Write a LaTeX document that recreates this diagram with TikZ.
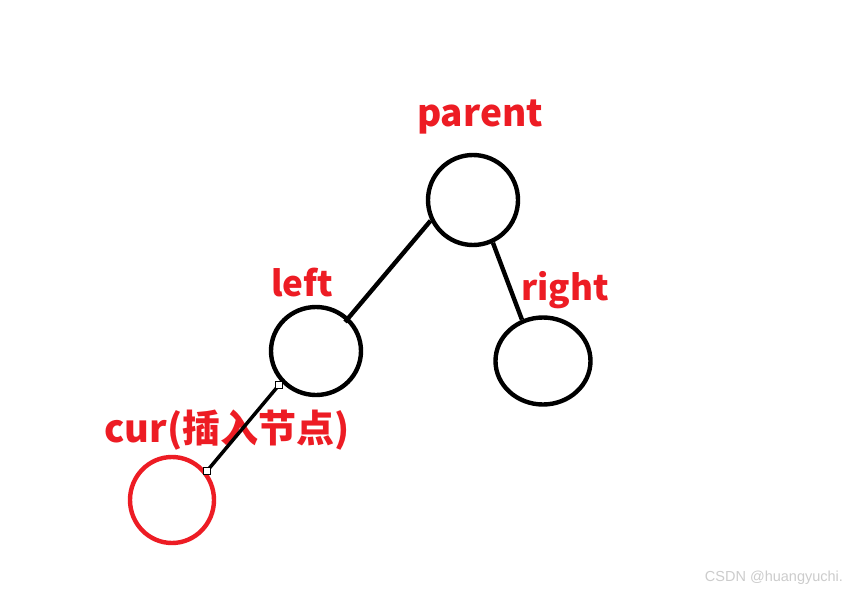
\documentclass[tikz,border=0pt]{standalone}
\usepackage{fontspec}
\usetikzlibrary{shapes.geometric,calc}
\setmainfont{Liberation Sans}
\newfontfamily\cjk{Noto Sans CJK SC}
\definecolor{pred}{HTML}{ED1C24}
\definecolor{wm}{HTML}{CCCCCC}
\begin{document}
\begin{tikzpicture}[x=1pt,y=-1pt,
  treenode/.style={draw=black,line width=4.4pt,ellipse,inner sep=0pt},
  newnode/.style={draw=pred,line width=4.4pt,ellipse,inner sep=0pt},
  lbl/.style={text=pred,font=\cjk\bfseries\fontsize{35}{40}\selectfont,inner sep=0pt},
  edge/.style={line width=4.4pt,black},
  handle/.style={draw=black,fill=white,line width=0.8pt,minimum size=7pt,inner sep=0pt,rectangle}]
\useasboundingbox (0,0) rectangle (852,594);
\fill[white] (0,0) rectangle (852,594);
\node[treenode,minimum width=90pt,minimum height=90pt] (parent) at (473,200) {};
\node[treenode,minimum width=90pt,minimum height=88pt] (left) at (316,351) {};
\node[treenode,minimum width=95pt,minimum height=87pt] (right) at (543,361) {};
\node[newnode,minimum width=84pt,minimum height=86pt] (cur) at (172,500) {};
\node[lbl,font=\cjk\bfseries\fontsize{37}{40}\selectfont] (tparent) at (480,117) {parent};
\node[lbl] (tleft) at (302,283) {left};
\node[lbl] (tright) at (565,290) {right};
\node[lbl,font=\cjk\bfseries\fontsize{38}{42}\selectfont] (tcur) at (227,430) {cur(插入节点)};
\node[text=wm,font=\fontsize{14.5}{16}\selectfont,inner sep=0pt] (wmk) at (774,578) {CSDN @huangyuchi.};
\draw[edge] (parent.206) -- ($(left.center)!0.88!(left.45)$);
\draw[edge] (parent.295) -- (right.117);
\coordinate (a) at (279,385);
\coordinate (b) at (207,471);
\draw[line width=3.5pt] (a) -- (b);
\node[handle] (ha) at (a) {};
\node[handle] (hb) at (b) {};
\end{tikzpicture}
\end{document}
